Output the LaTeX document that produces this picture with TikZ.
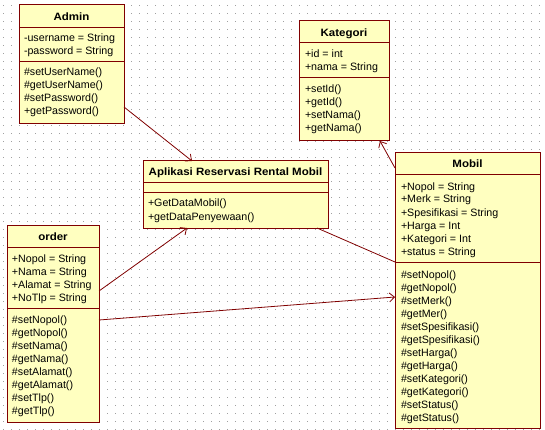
\documentclass[tikz,border=0pt]{standalone}
\usepackage{fontspec}
\setmainfont{Liberation Sans}
\usetikzlibrary{arrows.meta,calc}
\definecolor{umlborder}{RGB}{128,0,0}
\definecolor{umlfill}{RGB}{255,255,192}
\definecolor{dotc}{RGB}{160,160,160}
\newcommand\umlrows[4]{\foreach \t [count=\i] in {#4} {\node[umltext] (#1\i) at (#2,{#3+13*(\i-1)}) {\t};}}
\newcommand\umltitletext[1]{\scalebox{1.08}[1]{#1}}
\begin{document}
\begin{tikzpicture}[x=1pt,y=-1pt,
  classbox/.style={draw=umlborder,fill=umlfill,line width=1pt,rectangle,anchor=north west,inner sep=0pt,outer sep=0pt},
  umltext/.style={anchor=west,inner sep=0pt,outer sep=0pt,text height=8pt,text depth=0pt,font=\fontsize{10.67}{13}\selectfont},
  umltitle/.style={anchor=center,inner sep=0pt,outer sep=0pt,text height=8pt,text depth=0pt,font=\fontsize{10.67}{13}\selectfont\bfseries},
  compline/.style={draw=umlborder,line width=1pt},
  assoc/.style={draw=umlborder,line width=0.8pt},
  navarrow/.style={assoc,-{Straight Barb[length=5pt,width=9pt]}}]
\useasboundingbox (0,0) rectangle (545,430);
\fill[white] (0,0) rectangle (545,430);
% dotted grid
\foreach \x in {3,11,...,543} {\foreach \y in {5,13,...,429} {\fill[dotc] (\x,\y) rectangle ++(1,1);}}

% Admin
\node[classbox,minimum width=105pt,minimum height=119pt] (admin) at (19,5) {};
\draw[compline] (19,28) -- (124,28);
\draw[compline] (19,62) -- (124,62);
\node[umltitle] (admin-t) at (71.5,16.5) {\umltitletext{Admin}};
\umlrows{admin-a}{24}{38}{-username = String,-password = String}
\umlrows{admin-m}{24}{72}{\#setUserName(),\#getUserName(),\#setPassword(),+getPassword()}

% Kategori
\node[classbox,minimum width=90pt,minimum height=120pt] (kat) at (299,21) {};
\draw[compline] (299,43) -- (389,43);
\draw[compline] (299,78) -- (389,78);
\node[umltitle] (kat-t) at (344,32.5) {\umltitletext{Kategori}};
\umlrows{kat-a}{305}{54}{+id = int,+nama = String}
\umlrows{kat-m}{305}{89}{+setId(),+getId(),+setNama(),+getNama()}

% Aplikasi
\node[classbox,minimum width=185pt,minimum height=67pt] (apl) at (143,161) {};
\draw[compline] (143,183) -- (328,183);
\draw[compline] (143,193) -- (328,193);
\node[umltitle] (apl-t) at (235.5,172) {\umltitletext{Aplikasi Reservasi Rental Mobil}};
\umlrows{apl-m}{148}{203}{+GetDataMobil(),+getDataPenyewaan()}

% order
\node[classbox,minimum width=92pt,minimum height=197pt] (order) at (7,225) {};
\draw[compline] (7,247) -- (99,247);
\draw[compline] (7,308) -- (99,308);
\node[umltitle] (order-t) at (53,236) {\umltitletext{order}};
\umlrows{order-a}{12}{258}{+Nopol = String,+Nama = String,+Alamat = String,+NoTlp = String}
\umlrows{order-m}{12}{319}{\#setNopol(),\#getNopol(),\#setNama(),\#getNama(),\#setAlamat(),\#getAlamat(),\#setTlp(),\#getTlp()}

% Mobil
\node[classbox,minimum width=145pt,minimum height=275pt] (mobil) at (395,153) {};
\draw[compline] (395,175) -- (540,175);
\draw[compline] (395,262) -- (540,262);
\node[umltitle] (mobil-t) at (467.5,164) {\umltitletext{Mobil}};
\umlrows{mobil-a}{401}{186}{+Nopol = String,+Merk = String,+Spesifikasi = String,+Harga = Int,+Kategori = Int,+status = String}
\umlrows{mobil-m}{401}{274}{\#setNopol(),\#getNopol(),\#setMerk(),\#getMer(),\#setSpesifikasi(),\#getSpesifikasi(),\#setHarga(),\#getHarga(),\#setKategori(),\#getKategori(),\#setStatus(),\#getStatus()}

% connectors
\draw[navarrow] ($(admin.north east)+(0,102)$) -- ($(apl.north west)+(49,0)$);
\draw[navarrow] ($(order.north east)+(0,66)$) -- ($(apl.south west)+(44,0)$);
\draw[navarrow] ($(order.north east)+(0,95)$) -- ($(mobil.north west)+(0,144)$);
\draw[assoc] ($(apl.south west)+(174,0)$) -- ($(mobil.north west)+(0,109)$);
\draw[navarrow] ($(mobil.north west)+(0,15)$) -- ($(kat.south west)+(81,0)$);
\end{tikzpicture}
\end{document}
